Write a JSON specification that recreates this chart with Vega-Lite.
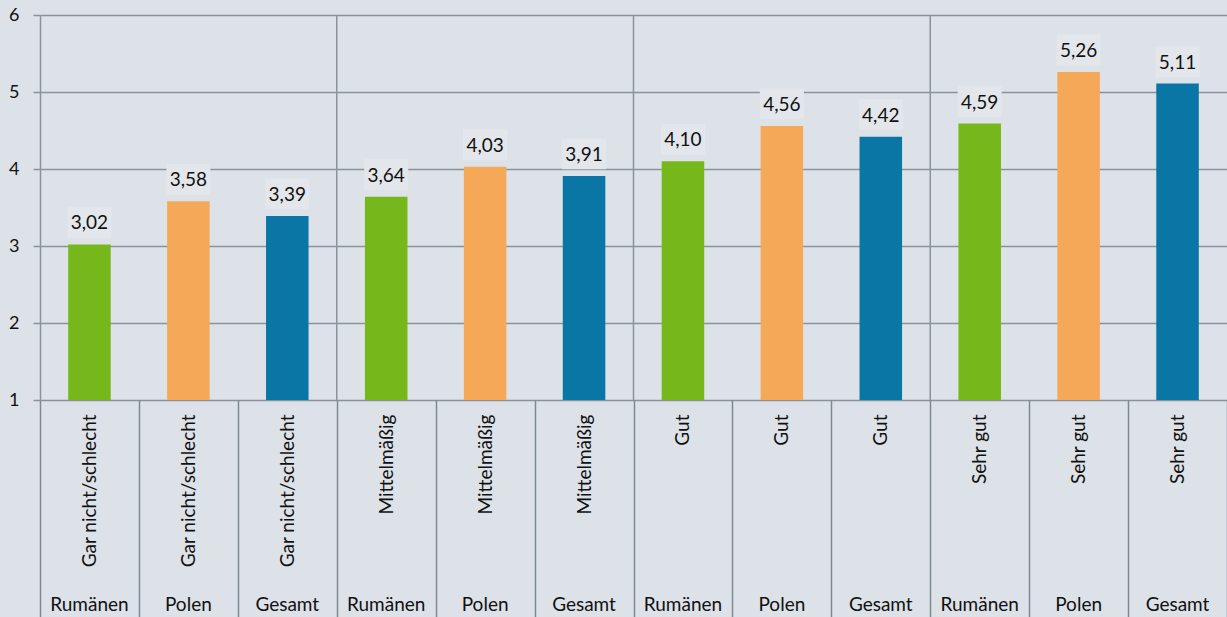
{
  "$schema": "https://vega.github.io/schema/vega-lite/v6.json",
  "width": 1187,
  "height": 385,
  "autosize": "none",
  "padding": {"left": 40, "top": 15, "right": 0, "bottom": 217},
  "background": "#dde2e8",
  "config": {
    "view": {"stroke": null},
    "font": "Lato",
    "locale": {"number": {"decimal": ",", "thousands": ".", "grouping": [3], "currency": ["", " €"]}}
  },
  "data": {
    "values": [
      {"key": "Gar nicht/schlecht|Rumänen", "cat": "Gar nicht/schlecht", "group": "Rumänen", "value": 3.02},
      {"key": "Gar nicht/schlecht|Polen", "cat": "Gar nicht/schlecht", "group": "Polen", "value": 3.58},
      {"key": "Gar nicht/schlecht|Gesamt", "cat": "Gar nicht/schlecht", "group": "Gesamt", "value": 3.39},
      {"key": "Mittelmäßig|Rumänen", "cat": "Mittelmäßig", "group": "Rumänen", "value": 3.64},
      {"key": "Mittelmäßig|Polen", "cat": "Mittelmäßig", "group": "Polen", "value": 4.03},
      {"key": "Mittelmäßig|Gesamt", "cat": "Mittelmäßig", "group": "Gesamt", "value": 3.91},
      {"key": "Gut|Rumänen", "cat": "Gut", "group": "Rumänen", "value": 4.10},
      {"key": "Gut|Polen", "cat": "Gut", "group": "Polen", "value": 4.56},
      {"key": "Gut|Gesamt", "cat": "Gut", "group": "Gesamt", "value": 4.42},
      {"key": "Sehr gut|Rumänen", "cat": "Sehr gut", "group": "Rumänen", "value": 4.59},
      {"key": "Sehr gut|Polen", "cat": "Sehr gut", "group": "Polen", "value": 5.26},
      {"key": "Sehr gut|Gesamt", "cat": "Sehr gut", "group": "Gesamt", "value": 5.11}
    ]
  },
  "encoding": {
    "x": {
      "field": "key",
      "type": "nominal",
      "sort": null,
      "scale": {"paddingInner": 0, "paddingOuter": 0}
    }
  },
  "layer": [
    {
      "mark": {"type": "bar", "width": {"band": 0.43}},
      "encoding": {
        "x": {
          "field": "key",
          "type": "nominal",
          "sort": null,
          "scale": {"paddingInner": 0, "paddingOuter": 0},
          "axis": {
            "orient": "bottom",
            "title": null,
            "domain": false,
            "labelExpr": "isString(datum.value) ? split(datum.value, '|')[0] : ''",
            "labelAngle": -90,
            "labelAlign": "right",
            "labelBaseline": "middle",
            "labelFontSize": 19,
            "labelColor": "#111111",
            "labelPadding": -203,
            "tickBand": "extent",
            "tickSize": 217,
            "tickWidth": 1.5,
            "tickColor": "#7d8891"
          }
        },
        "y": {
          "field": "value",
          "type": "quantitative",
          "scale": {"domain": [1, 6], "zero": false, "nice": false},
          "axis": {
            "title": null,
            "values": [1, 2, 3, 4, 5, 6],
            "format": "d",
            "grid": true,
            "gridColor": "#8a939b",
            "gridWidth": 1.5,
            "domainColor": "#8a939b",
            "domainWidth": 1.5,
            "tickColor": "#8a939b",
            "tickWidth": 1.5,
            "tickSize": 7,
            "labelPadding": 14,
            "labelFontSize": 18,
            "labelColor": "#111111"
          }
        },
        "y2": {"datum": 1},
        "color": {
          "field": "group",
          "type": "nominal",
          "scale": {"domain": ["Rumänen", "Polen", "Gesamt"], "range": ["#76b81b", "#f5a958", "#0a76a5"]},
          "legend": null
        }
      }
    },
    {
      "transform": [{"filter": "datum.group == 'Rumänen' && datum.cat != 'Gar nicht/schlecht'"}],
      "mark": {"type": "rule", "color": "#8a939b", "strokeWidth": 1.5},
      "encoding": {
        "x": {"field": "key", "type": "nominal", "sort": null, "bandPosition": 0},
        "y": {"datum": 6, "type": "quantitative"},
        "y2": {"datum": 1}
      }
    },
    {
      "mark": {"type": "point", "shape": "M-1,-0.7H1V0.7H-1Z", "filled": true, "size": 1936, "color": "#e3e7eb", "opacity": 1, "yOffset": -22},
      "encoding": {
        "y": {"field": "value", "type": "quantitative"}
      }
    },
    {
      "mark": {"type": "text", "fontSize": 19, "color": "#111111", "yOffset": -21, "baseline": "middle"},
      "encoding": {
        "y": {"field": "value", "type": "quantitative"},
        "text": {"field": "value", "type": "quantitative", "format": ".2f"}
      }
    },
    {
      "mark": {"type": "text", "fontSize": 19, "color": "#111111", "yOffset": 205, "baseline": "middle"},
      "encoding": {
        "y": {"datum": 1, "type": "quantitative"},
        "text": {"field": "group", "type": "nominal"}
      }
    }
  ]
}
